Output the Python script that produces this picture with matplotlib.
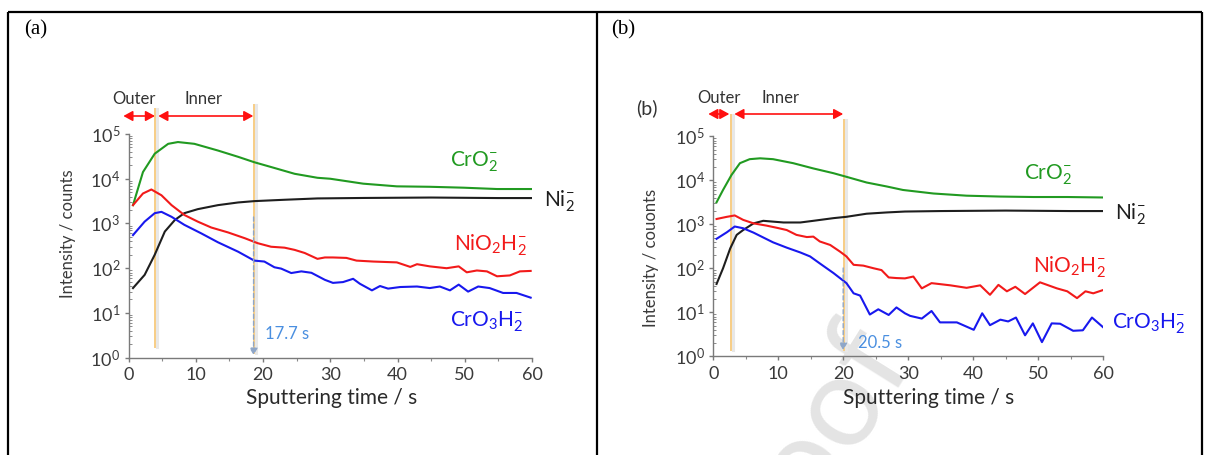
import matplotlib
matplotlib.use("Agg")
import matplotlib.pyplot as plt
from matplotlib.lines import Line2D
from matplotlib.ticker import LogLocator, MultipleLocator, NullFormatter, FixedLocator
import numpy as np

# ---------------- data ----------------
# Panel (a)
t_cro2_a = [0.67, 2.15, 3.9, 5.9, 7.35, 9.8, 13.3, 16.3, 18.7, 21.7, 24.7, 28.1, 30, 34.9, 39.9, 44.8, 49.8, 54.8, 60]
cro2_a = [2570, 14100, 36300, 60300, 66100, 60300, 42700, 30900, 23400, 17400, 12900, 10500, 10000, 7760, 6760, 6610, 6310, 5890, 5890]

t_ni2_a = [0.67, 2.4, 3.9, 5.4, 6.9, 8.3, 10.3, 13.3, 16.3, 18.7, 23.2, 28.1, 35, 45, 55, 60]
ni2_a = [36, 71, 200, 660, 1200, 1700, 2090, 2570, 2950, 3160, 3390, 3630, 3720, 3800, 3700, 3700]

t_nio2h2_a = [0.67, 2.15, 3.4, 4.9, 6.4, 8.3, 10.3, 12.3, 14.8, 17.3, 19.2, 21.2, 23.2, 24.7, 26.2, 28.1, 29.2,
              30.4, 32.4, 33.9, 36.4, 39.9, 41.9, 42.9, 44.8, 47.3, 49.1, 50.3, 51.8, 53.3, 54.8, 56.7, 58.2, 59.8]
nio2h2_a = [2570, 4680, 5750, 4270, 2570, 1550, 1100, 813, 631, 468, 363, 302, 288, 257, 219, 162, 174,
            174, 170, 148, 141, 135, 107, 123, 110, 100, 110, 81, 89, 85, 66, 69, 85, 87]

t_cro3h2_a = [0.67, 2.4, 3.9, 4.9, 6.4, 8.3, 10.8, 13.3, 16.3, 18.7, 20.2, 21.7, 22.7, 24.2, 25.7, 27.2, 29.2, 30.4,
              31.9, 33.4, 34.4, 36.2, 37.4, 38.6, 40.4, 42.9, 44.8, 46.3, 47.8, 49.1, 50.5, 52.0, 53.7, 55.7, 57.7, 59.8]
cro3h2_a = [550, 1100, 1700, 1820, 1410, 933, 603, 380, 234, 148, 141, 105, 98, 78, 85, 79, 55, 47,
            49, 58, 45, 32, 40, 35, 38, 39, 36, 39, 32, 43, 30, 39, 36, 28, 28, 22]

# Panel (b)
t_cro2_b = [0.5, 1.5, 2.8, 4.1, 5.6, 7.2, 9.2, 12.3, 15.4, 18.5, 20.5, 23.6, 26.7, 29.2, 33.9, 39.0, 44.2, 49.3, 54.5, 60]
cro2_b = [3160, 6030, 13200, 24500, 30200, 31600, 30200, 24500, 18600, 14500, 12000, 8910, 7240, 6030, 5010, 4470, 4270, 4170, 4170, 4070]

t_ni2_b = [0.5, 1.5, 2.6, 3.6, 4.6, 6.2, 7.7, 9.2, 10.8, 13.4, 15.4, 18.5, 20.5, 23.6, 26.7, 29.5, 35, 45, 55, 60]
ni2_b = [44, 100, 282, 575, 741, 1050, 1200, 1150, 1100, 1100, 1200, 1380, 1480, 1740, 1860, 1950, 2000, 2050, 2000, 2000]

t_nio2h2_b = [0.5, 2.1, 3.3, 4.6, 6.2, 8.2, 9.8, 11.3, 12.8, 14.4, 15.4, 16.4, 18.0, 19.5, 20.5, 21.6, 23.1, 24.7, 25.9, 27.0,
              28.2, 29.5, 30.8, 32.1, 33.6, 36.5, 39.0, 41.1, 42.6, 43.9, 45.2, 46.5, 48.0, 50.3, 52.9, 54.5, 56.0, 57.3, 58.5, 60]
nio2h2_b = [1320, 1480, 1590, 1260, 1050, 933, 832, 741, 575, 513, 525, 407, 339, 240, 186, 120, 115, 100, 91, 62,
            60, 59, 65, 35, 46, 41, 36, 41, 25, 42, 30, 38, 26, 48, 35, 30, 21, 30, 27, 32]

t_cro3h2_b = [0.5, 2.1, 3.3, 4.6, 6.2, 7.7, 9.2, 11.3, 13.4, 14.9, 16.4, 18.5, 20.5, 21.6, 22.6, 24.1, 25.4, 27.0, 28.2, 29.5,
              30.3, 32.1, 33.6, 34.9, 37.5, 40.1, 41.4, 42.6, 44.2, 45.4, 46.6, 48.0, 49.2, 50.6, 52.1, 53.4, 55.4, 56.9, 58.3, 60]
cro3h2_b = [468, 661, 891, 813, 646, 501, 389, 295, 229, 186, 129, 78, 46, 27, 24, 8.9, 11.7, 8.7, 12.9, 9.5,
            8.3, 7.2, 10.7, 5.9, 5.9, 4.0, 9.5, 5.1, 6.8, 6.2, 7.6, 3.0, 5.6, 2.1, 5.6, 5.5, 3.8, 3.9, 7.6, 4.6]

# layer boundaries (s): outer/inner boundary, inner/metal boundary
bounds_a = [3.9, 18.6]
bounds_b = [2.7, 20.1]
time_labels = ["17.7 s", "20.5 s"]
xticks = [0, 10, 20, 30, 40, 50, 60]

species = ["CrO$_\\mathregular{2}^\\mathregular{-}$", "Ni$_\\mathregular{2}^\\mathregular{-}$",
           "NiO$_\\mathregular{2}$H$_\\mathregular{2}^\\mathregular{-}$", "CrO$_\\mathregular{3}$H$_\\mathregular{2}^\\mathregular{-}$"]

# ---------------- style ----------------
plt.rcParams['font.family'] = ['Lato', 'DejaVu Sans']
plt.rcParams['mathtext.fontset'] = 'custom'
plt.rcParams['mathtext.rm'] = 'Lato'
plt.rcParams['mathtext.it'] = 'Lato:italic'
plt.rcParams['mathtext.bf'] = 'Lato:bold'

C_GREEN = '#219a21'
C_RED = '#f21a1a'
C_BLUE = '#1818ee'
C_BLACK = '#1e1e1e'
C_ORANGE = '#f7cd85'
C_ARROW = '#ff1010'
C_TXT = '#333333'
C_TIME = '#4a8fe0'

W, H = 1210, 455
fig = plt.figure(figsize=(W / 100, H / 100), dpi=100)


def fx(x):
    return x / W


def fy(y):
    return 1 - y / H


# watermark (faint)
fig.text(fx(915), fy(360), 'Journal Pre-proof', rotation=58, rotation_mode='anchor',
         ha='right', va='baseline', fontsize=92, color='#e4e4e4', zorder=-5)

# table frame
for xs, ys in [([8, 1202], [12, 12]), ([8, 8], [12, 455]), ([597, 597], [12, 455]), ([1202, 1202], [12, 455])]:
    fig.add_artist(Line2D([fx(v) for v in xs], [fy(v) for v in ys], transform=fig.transFigure,
                          color='black', lw=1.6, solid_capstyle='butt'))

fig.text(fx(24), fy(30), '(a)', family='Liberation Serif', fontsize=15, ha='left', va='center', color='black')
fig.text(fx(611), fy(30), '(b)', family='Liberation Serif', fontsize=15, ha='left', va='center', color='black')

panels = [
    dict(left=128.5, right=532.0, top=134.0, bot=357.7,
         series=[(t_cro2_a, cro2_a, C_GREEN), (t_ni2_a, ni2_a, C_BLACK),
                 (t_nio2h2_a, nio2h2_a, C_RED), (t_cro3h2_a, cro3h2_a, C_BLUE)],
         bounds=bounds_a, orange=[(109, 347), (105, 353)], arrow_y=116, arrows=[(-0.77, 3.94), (4.43, 18.56)],
         outer_x=0.82, inner_x=11.2, lab_y=99, dash=(217, 355), dash_x=18.6,
         time_xy=(265, 334), time=time_labels[0],
         labels=[(450, 167), (544, 207), (454, 251), (450, 327)],
         ylabel='Intensity / counts', ylabel_xy=(68.5, 234), xlabel_xy=(332, 398)),
    dict(left=713.3, right=1103.0, top=136.3, bot=356.3,
         series=[(t_cro2_b, cro2_b, C_GREEN), (t_ni2_b, ni2_b, C_BLACK),
                 (t_nio2h2_b, nio2h2_b, C_RED), (t_cro3h2_b, cro3h2_b, C_BLUE)],
         bounds=bounds_b, orange=[(115, 350), (120, 350)], arrow_y=114, arrows=[(-0.77, 2.47), (3.24, 20.0)],
         outer_x=0.88, inner_x=10.4, lab_y=98, dash=(268, 350), dash_x=20.0,
         time_xy=(858, 343.5), time=time_labels[1],
         labels=[(1024, 180), (1115, 219), (1033, 273), (1112, 328)],
         ylabel='Intensity / couonts', ylabel_xy=(651.5, 258), xlabel_xy=(929, 398)),
]

for p in panels:
    ax = fig.add_axes([fx(p['left']), fy(p['bot']), (p['right'] - p['left']) / W, (p['bot'] - p['top']) / H])
    ax.patch.set_visible(False)
    for t, v, c in p['series']:
        ax.plot(t, v, color=c, lw=1.5, solid_joinstyle='round', zorder=3)
    ax.set_yscale('log')
    ax.set_ylim(1, 1e5)
    ax.set_xlim(0, 60)
    ax.xaxis.set_major_locator(FixedLocator(xticks))
    ax.xaxis.set_minor_locator(MultipleLocator(5))
    ax.yaxis.set_major_locator(LogLocator(base=10, numticks=10))
    ax.yaxis.set_minor_locator(LogLocator(base=10, subs=np.arange(2, 10), numticks=10))
    ax.yaxis.set_minor_formatter(NullFormatter())
    for s in ['top', 'right']:
        ax.spines[s].set_visible(False)
    for s in ['left', 'bottom']:
        ax.spines[s].set_color('#7a7a7a')
        ax.spines[s].set_linewidth(1.0)
    ax.tick_params(axis='both', which='major', labelsize=13, colors='#7a7a7a', labelcolor='#3a3a3a',
                   direction='out', length=3, width=1.0, pad=3)
    ax.tick_params(axis='y', which='minor', direction='in', length=2.5, width=0.7, colors='#8a8a8a')
    ax.tick_params(axis='x', which='minor', direction='out', length=2.5, width=0.8, colors='#8a8a8a')
    ax.tick_params(axis='x', which='major', pad=4)

    span = p['bot'] - p['top']

    def af(Y, p=p, span=span):
        return (p['bot'] - Y) / span

    tr = ax.get_xaxis_transform()
    # orange boundary lines
    for xb, (y0, y1) in zip(p['bounds'], p['orange']):
        ax.plot([xb + 0.35, xb + 0.35], [af(y0), af(y1)], transform=tr, color='#e8e8e8', lw=2.2,
                clip_on=False, zorder=1)
        ax.plot([xb, xb], [af(y0), af(y1)], transform=tr, color=C_ORANGE, lw=1.4, clip_on=False, zorder=2)
    # red double arrows
    for x0, x1 in p['arrows']:
        ax.annotate('', xy=(x1, af(p['arrow_y'])), xytext=(x0, af(p['arrow_y'])), xycoords=tr, textcoords=tr,
                    arrowprops=dict(arrowstyle='<|-|>,head_length=0.55,head_width=0.3', color=C_ARROW, lw=1.2,
                                    shrinkA=0, shrinkB=0, mutation_scale=10), annotation_clip=False)
    ax.text(p['outer_x'], af(p['lab_y']), 'Outer', transform=tr, ha='center', va='center', fontsize=12,
            color=C_TXT, clip_on=False)
    ax.text(p['inner_x'], af(p['lab_y']), 'Inner', transform=tr, ha='center', va='center', fontsize=12,
            color=C_TXT, clip_on=False)
    # dashed arrow to the time mark
    ax.annotate('', xy=(p['dash_x'], af(p['dash'][1])), xytext=(p['dash_x'], af(p['dash'][0])),
                xycoords=tr, textcoords=tr,
                arrowprops=dict(arrowstyle='-|>,head_length=0.5,head_width=0.3', color='#8ea6c8', lw=1.0,
                                ls=(0, (3, 2)), shrinkA=0, shrinkB=0, mutation_scale=8), annotation_clip=False)
    fig.text(fx(p['time_xy'][0]), fy(p['time_xy'][1]), p['time'], ha='left', va='center', fontsize=12,
             color=C_TIME)
    # species labels
    for (lx, ly), name, col in zip(p['labels'], species, [C_GREEN, C_BLACK, C_RED, C_BLUE]):
        fig.text(fx(lx), fy(ly), name, ha='left', va='baseline', fontsize=15, color=col)
    fig.text(fx(p['ylabel_xy'][0]), fy(p['ylabel_xy'][1]), p['ylabel'], rotation=90, ha='center', va='center',
             fontsize=12, color='#3a3a3a')
    fig.text(fx(p['xlabel_xy'][0]), fy(p['xlabel_xy'][1]), 'Sputtering time / s', ha='center', va='center',
             fontsize=15, color='#2a2a2a')

# inner "(b)" label of panel (b)
fig.text(fx(646.5), fy(108), '(b)', ha='center', va='center', fontsize=14, color='#333333')

fig.savefig('out.png', dpi=100)
